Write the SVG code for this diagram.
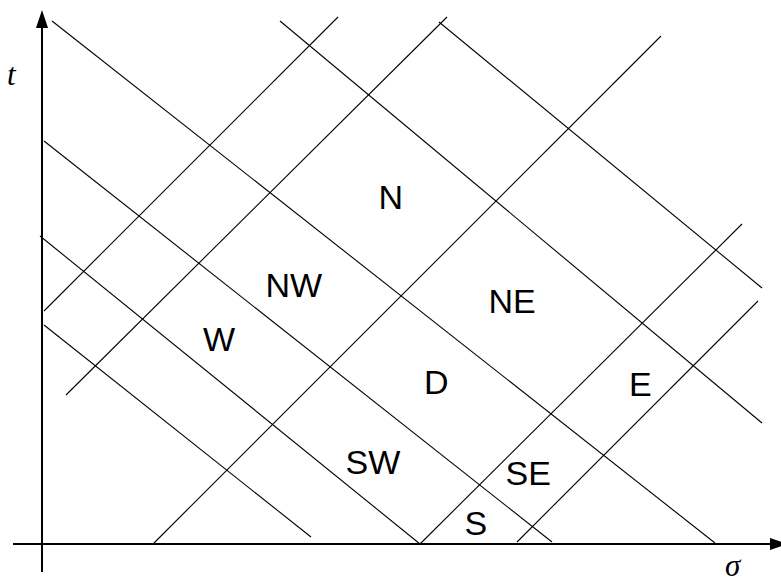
<svg xmlns="http://www.w3.org/2000/svg" width="781" height="584" viewBox="0 0 781 584">
<style>
.ln{stroke:#000;stroke-width:1.1;fill:none}
.ax{stroke:#000;stroke-width:2;fill:none}
.lbl{font-family:"Liberation Sans",Arial,sans-serif;font-size:34px;fill:#000}
.var{font-family:"Liberation Serif","Times New Roman",serif;font-style:italic;font-size:31px;fill:#000}
</style>
<g id="axes">
<line class="ax" x1="42" y1="572" x2="42" y2="26"/>
<polygon points="42,10 36,28 48,28" fill="#000"/>
<line class="ax" x1="13" y1="544" x2="772" y2="544"/>
<polygon points="770,538 770,550 788,544" fill="#000"/>
<text class="var" x="7" y="85">t</text>
<text class="var" x="725" y="576">σ</text>
</g>
<g id="connectors">
<line class="ln" x1="52" y1="21" x2="715" y2="543"/>
<line class="ln" x1="280" y1="21" x2="762" y2="423"/>
<line class="ln" x1="439" y1="22" x2="762" y2="288"/>
<line class="ln" x1="44" y1="141" x2="552" y2="542"/>
<line class="ln" x1="40" y1="236" x2="420" y2="544"/>
<line class="ln" x1="44" y1="325" x2="311" y2="537"/>
<line class="ln" x1="44" y1="311" x2="338" y2="17"/>
<line class="ln" x1="66" y1="395" x2="447" y2="17"/>
<line class="ln" x1="153" y1="544" x2="661" y2="36"/>
<line class="ln" x1="420" y1="544" x2="742" y2="224"/>
<line class="ln" x1="517" y1="542" x2="758" y2="301"/>
</g>
<g id="N"><text class="lbl" x="378.5" y="209">N</text></g>
<g id="NW"><text class="lbl" x="265.5" y="297">NW</text></g>
<g id="NE"><text class="lbl" x="488.5" y="313">NE</text></g>
<g id="W"><text class="lbl" x="203" y="351">W</text></g>
<g id="D"><text class="lbl" x="424" y="394">D</text></g>
<g id="E"><text class="lbl" x="629" y="396">E</text></g>
<g id="SW"><text class="lbl" x="345.5" y="474">SW</text></g>
<g id="SE"><text class="lbl" x="505.5" y="485">SE</text></g>
<g id="S"><text class="lbl" x="464.5" y="535">S</text></g>
</svg>
